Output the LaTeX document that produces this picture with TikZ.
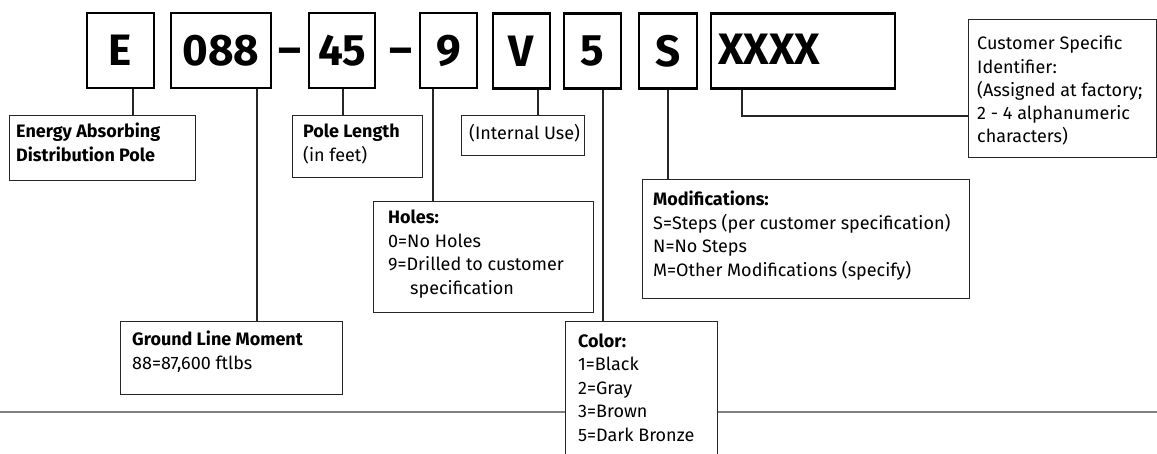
\documentclass[tikz,border=0pt]{standalone}
\usepackage{fontspec}
\setmainfont{Fira Sans}
\begin{document}
\begin{tikzpicture}[x=1pt,y=-1pt,
  topbox/.style={draw=black, line width=2.5pt, inner sep=0pt, font=\fontsize{44}{44}\selectfont\bfseries},
  toptext/.style={anchor=base west, inner sep=0pt, font=\fontsize{44}{44}\selectfont\bfseries},
  dashtext/.style={anchor=base, inner sep=0pt, font=\fontsize{44}{44}\selectfont\bfseries},
  lbox/.style={draw=black!85, line width=1.3pt, fill=white, inner sep=0pt, anchor=north west},
  txt/.style={anchor=base west, inner sep=0pt, font=\fontsize{18}{23.5}\selectfont, align=left},
  conn/.style={draw=black!85, line width=1.3pt},
  ground/.style={draw=black!50, line width=2.5pt}]
\useasboundingbox (0,0) rectangle (1157,454);
% ground line
\coordinate (gl) at (0,412);
\coordinate (gr) at (1157,412);
\draw[ground] (gl) -- (gr);
% top code boxes
\node[topbox, minimum width=67pt, minimum height=75pt] (E) at (120.5,50.5) {E};
\node[topbox, minimum width=100pt, minimum height=75pt] (P) at (221,50.5) {088};
\node[dashtext] (d1) at (289.5,65) {–};
\node[topbox, minimum width=66pt, minimum height=75pt] (L) at (342,50.5) {45};
\node[dashtext] (d2) at (400.5,65) {–};
\node[topbox, minimum width=57pt, minimum height=75pt] (H) at (448.5,50.5) {9};
\node[topbox, minimum width=57pt, minimum height=75pt] (V) at (521.5,51) {V};
\node[topbox, minimum width=57pt, minimum height=75pt] (C) at (592.5,51) {5};
\node[topbox, minimum width=58pt, minimum height=75pt] (S) at (668,51) {S};
\node[topbox, minimum width=184pt, minimum height=75pt] (X) at (803,51) {};
\node[toptext] (Xt) at (718,65) {XXXX};
% description boxes (text nodes anchored at the baseline of their last line)
\node[lbox, minimum width=186pt, minimum height=65pt] (energy) at (9,115) {};
\node[txt, font=\fontsize{18}{23.5}\selectfont\bfseries] (energyt) at (16,161.5) {Energy Absorbing\\Distribution Pole};
\node[lbox, minimum width=222pt, minimum height=73pt] (moment) at (120,321) {};
\node[txt] (momentt) at (132,369.5) {\textbf{Ground Line Moment}\\88=87,600 ftlbs};
\node[lbox, minimum width=130pt, minimum height=62pt] (length) at (292,115) {};
\node[txt] (lengtht) at (303,161.5) {\textbf{Pole Length}\\(in feet)};
\node[lbox, minimum width=220pt, minimum height=111pt] (holes) at (373,201) {};
\node[txt] (holest) at (388,294.5) {\textbf{Holes:}\\0=No Holes\\9=Drilled to customer\\\hspace*{22pt}specification};
\node[lbox, minimum width=123pt, minimum height=40pt] (internal) at (461,115) {};
\node[txt] (internalt) at (469,140) {(Internal Use)};
\node[lbox, minimum width=152pt, minimum height=160pt] (color) at (565,321) {};
\node[txt] (colort) at (578,441) {\textbf{Color:}\\1=Black\\2=Gray\\3=Brown\\5=Dark Bronze};
\node[lbox, minimum width=327pt, minimum height=119pt] (mods) at (642,179) {};
\node[txt] (modst) at (653,276.5) {\textbf{Modifications:}\\S=Steps (per customer specification)\\N=No Steps\\M=Other Modifications (specify)};
\node[lbox, minimum width=188pt, minimum height=138pt] (cust) at (968,19) {};
\node[txt, font=\fontsize{18}{23.3}\selectfont] (custt) at (977,143) {Customer Specific\\Identifier:\\(Assigned at factory;\\2 - 4 alphanumeric\\characters)};
% connector x positions
\coordinate (xE) at (133,0);
\coordinate (xP) at (257,0);
\coordinate (xL) at (343,0);
\coordinate (xH) at (433,0);
\coordinate (xV) at (538,0);
\coordinate (xC) at (603,0);
\coordinate (xS) at (668,0);
\coordinate (xX) at (742,116);
\draw[conn] (E.south -| xE) -- (energy.north -| xE);
\draw[conn] (P.south -| xP) -- (moment.north -| xP);
\draw[conn] (L.south -| xL) -- (length.north -| xL);
\draw[conn] (H.south -| xH) -- (holes.north -| xH);
\draw[conn] (V.south -| xV) -- (internal.north -| xV);
\draw[conn] (C.south -| xC) -- (color.north -| xC);
\draw[conn] (S.south -| xS) -- (mods.north -| xS);
\draw[conn] (X.south -| xX) -- (xX) -- (cust.west |- xX);
\end{tikzpicture}
\end{document}
